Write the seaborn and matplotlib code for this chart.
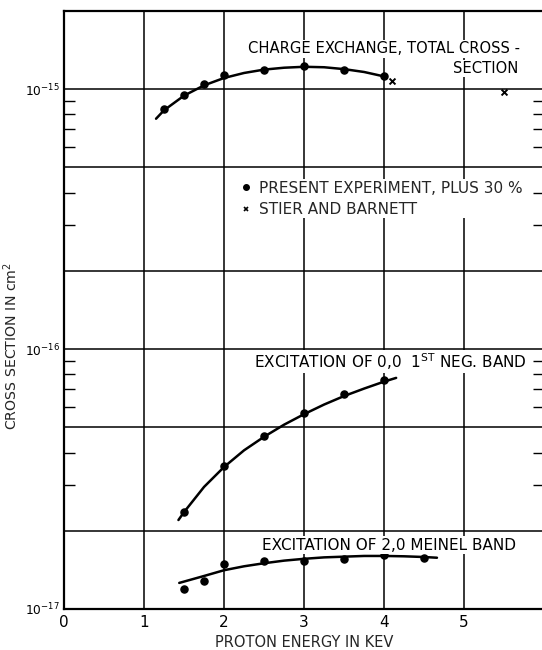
import numpy as np
import pandas as pd
import matplotlib
matplotlib.use("Agg")
import matplotlib.pyplot as plt
import seaborn as sns
from matplotlib.ticker import FixedLocator, NullFormatter
from matplotlib.lines import Line2D

# ---------------- data ----------------
# Charge exchange, total cross-section (present experiment, plus 30 %)
cx_energy = [1.25, 1.5, 1.75, 2.0, 2.5, 3.0, 3.5, 4.0]
cx_sigma = [0.84e-15, 0.95e-15, 1.05e-15, 1.13e-15, 1.19e-15, 1.23e-15, 1.19e-15, 1.12e-15]
# Stier and Barnett
sb_energy = [4.1, 5.5]
sb_sigma = [1.08e-15, 0.98e-15]
# drawn curve through charge exchange
cx_curve_energy = [1.15, 1.25, 1.5, 1.75, 2.0, 2.25, 2.5, 2.75, 3.0, 3.25, 3.5, 3.75, 4.0]
cx_curve_sigma = [0.77e-15, 0.83e-15, 0.945e-15, 1.035e-15, 1.105e-15, 1.155e-15, 1.19e-15,
                  1.21e-15, 1.22e-15, 1.215e-15, 1.195e-15, 1.165e-15, 1.12e-15]

# Excitation of 0,0 1st neg. band
neg_energy = [1.5, 2.0, 2.5, 3.0, 3.5, 4.0]
neg_sigma = [2.36e-17, 3.55e-17, 4.63e-17, 5.67e-17, 6.7e-17, 7.6e-17]
neg_curve_energy = [1.43, 1.5, 1.75, 2.0, 2.25, 2.5, 2.75, 3.0, 3.25, 3.5, 3.75, 4.0, 4.15]
neg_curve_sigma = [2.2e-17, 2.36e-17, 2.95e-17, 3.52e-17, 4.08e-17, 4.6e-17, 5.12e-17,
                   5.62e-17, 6.12e-17, 6.6e-17, 7.05e-17, 7.5e-17, 7.75e-17]

# Excitation of 2,0 Meinel band
mei_energy = [1.5, 1.75, 2.0, 2.5, 3.0, 3.5, 4.0, 4.5]
mei_sigma = [1.19e-17, 1.28e-17, 1.49e-17, 1.53e-17, 1.53e-17, 1.56e-17, 1.61e-17, 1.57e-17]
mei_curve_energy = [1.44, 1.75, 2.0, 2.25, 2.5, 2.75, 3.0, 3.25, 3.5, 3.75, 4.0, 4.25, 4.5, 4.66]
mei_curve_sigma = [1.26e-17, 1.34e-17, 1.41e-17, 1.46e-17, 1.50e-17, 1.535e-17, 1.56e-17,
                   1.58e-17, 1.59e-17, 1.60e-17, 1.60e-17, 1.595e-17, 1.585e-17, 1.575e-17]

x_ticks = [0, 1, 2, 3, 4, 5, 6]
x_ticklabels = ["0", "1", "2", "3", "4", "5", ""]
y_grid = [1e-17, 2e-17, 5e-17, 1e-16, 2e-16, 5e-16, 1e-15, 2e-15]
y_labels = {1e-17: r"10$^{-17}$", 1e-16: r"10$^{-16}$", 1e-15: r"10$^{-15}$"}

# ---------------- style ----------------
sns.set_style("white")
plt.rcParams["font.family"] = ["DejaVu Sans"]
plt.rcParams["mathtext.default"] = "regular"

fig = plt.figure(figsize=(5.42, 6.5), dpi=100)
ax = fig.add_axes([64 / 542, 1 - 609 / 650, 0.886, (609 - 11) / 650])
ax.set_yscale("log")
ax.set_xlim(0, 6)
ax.set_ylim(1e-17, 2e-15)

# grid / ticks
ax.xaxis.set_major_locator(FixedLocator(x_ticks))
ax.set_xticklabels(x_ticklabels)
ax.yaxis.set_major_locator(FixedLocator(y_grid))
ax.yaxis.set_major_formatter(plt.FuncFormatter(
    lambda v, p: next((l for k, l in y_labels.items() if abs(v / k - 1) < 1e-6), "")))
minor = [m * 10.0 ** e for e in (-17, -16, -15) for m in (3, 4, 6, 7, 8, 9)]
ax.yaxis.set_minor_locator(FixedLocator([v for v in minor if v < 1e-15]))
ax.yaxis.set_minor_formatter(NullFormatter())
ax.grid(True, which="major", color="black", linewidth=1.1)
ax.tick_params(axis="both", which="major", length=0, colors="black")
ax.tick_params(axis="x", pad=4, labelsize=11)
ax.tick_params(axis="y", pad=3, labelsize=8.8)
ax.tick_params(axis="y", which="minor", direction="in", length=8, width=1.0,
               left=True, right=True, color="black")
for s in ax.spines.values():
    s.set_color("black")
    s.set_linewidth(1.6)
    s.set_visible(True)

# curves
lw = 1.8
sns.lineplot(x=cx_curve_energy, y=cx_curve_sigma, ax=ax, color="black", linewidth=lw, sort=False)
sns.lineplot(x=neg_curve_energy, y=neg_curve_sigma, ax=ax, color="black", linewidth=lw, sort=False)
sns.lineplot(x=mei_curve_energy, y=mei_curve_sigma, ax=ax, color="black", linewidth=lw, sort=False)

# points
pk = dict(ax=ax, color="black", s=26, marker="o", edgecolor="black", linewidth=1.0, zorder=5)
sns.scatterplot(x=cx_energy, y=cx_sigma, **pk)
sns.scatterplot(x=neg_energy, y=neg_sigma, **pk)
sns.scatterplot(x=mei_energy, y=mei_sigma, **pk)
sns.scatterplot(x=sb_energy, y=sb_sigma, ax=ax, color="black", s=18, marker="x", linewidth=1.4, zorder=5)

# annotations
fs = 11
tk = dict(color="black", zorder=6, bbox=dict(facecolor="white", edgecolor="none", pad=1.0))
ax.text(2.30, 1.43e-15, "CHARGE EXCHANGE, TOTAL CROSS -", ha="left", va="center", fontsize=10.6, **tk)
ax.text(5.68, 1.20e-15, "SECTION", ha="right", va="center", fontsize=10.6, **tk)
ax.text(2.38, 8.95e-17, r"EXCITATION OF 0,0  1$^{ST}$ NEG. BAND", ha="left", va="center", fontsize=fs, **tk)
ax.text(2.48, 1.76e-17, "EXCITATION OF 2,0 MEINEL BAND", ha="left", va="center", fontsize=fs, **tk)

handles = [Line2D([], [], marker="o", color="black", linestyle="none", markersize=4),
           Line2D([], [], marker="x", color="black", linestyle="none", markersize=3.5, markeredgewidth=1.2)]
leg = ax.legend(handles, ["PRESENT EXPERIMENT, PLUS 30 %", "STIER AND BARNETT"],
                loc="upper left", bbox_to_anchor=(2.2 / 6, (609 - 179) / 598),
                frameon=True, fancybox=False, edgecolor="none", facecolor="white", framealpha=1,
                handlelength=0.6, handletextpad=0.55, borderpad=0.1, labelspacing=0.42,
                fontsize=fs, borderaxespad=0)

ax.set_xlabel("PROTON ENERGY IN KEV", fontsize=10.5, labelpad=4)
ax.set_ylabel(r"CROSS SECTION IN cm$^{2}$", fontsize=10.2)
ax.yaxis.set_label_coords((20 - 64) / 480, (609 - 346) / 598)

fig.savefig("out.png", dpi=100)
